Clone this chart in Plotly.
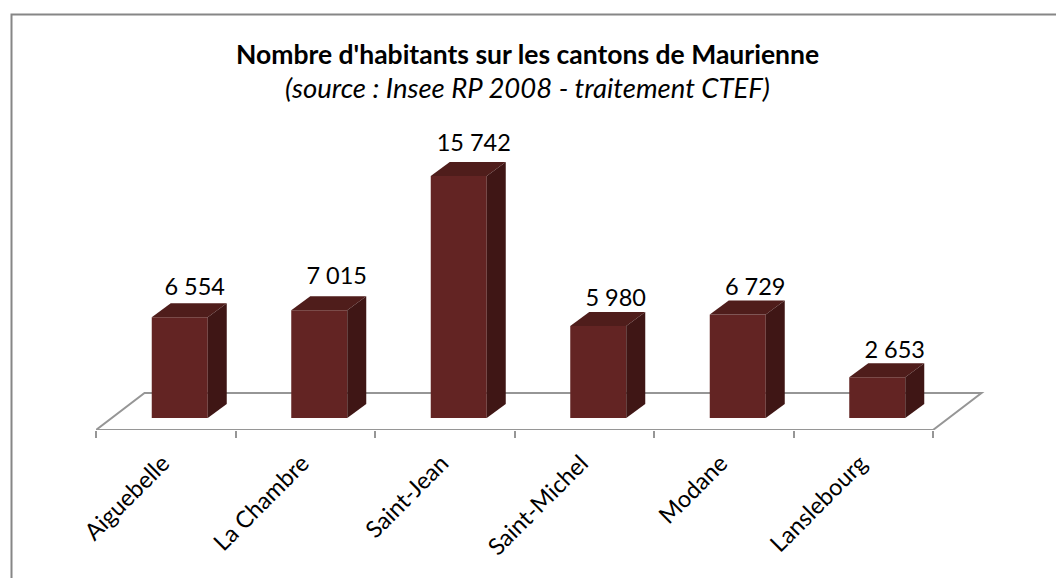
import plotly.graph_objects as go

categories = ["Aiguebelle", "La Chambre", "Saint-Jean", "Saint-Michel", "Modane", "Lanslebourg"]
values = [6554, 7015, 15742, 5980, 6729, 2653]
value_labels = ["6 554", "7 015", "15 742", "5 980", "6 729", "2 653"]
# hand placement of the data labels, in px relative to the bar
label_lift_px = [27.7, 32.5, 30.5, 25.5, 25, 24.7]
label_nudge_px = [0, 2.5, 0, 2.5, 2.5, 2.5]

W, H = 1056, 578
# pixel geometry of the plot box
L, R, T, B = 96, 990, 100, 430
CAT_PX = 139.5
UNIT_PX = 242 / 15742          # px per inhabitant
px = lambda p: p / CAT_PX      # px -> category units
py = lambda p: p / UNIT_PX     # px -> value units

FRONT = "#632423"
TOP = "#4F1D1B"
SIDE = "#3F1615"
GRID = "#969696"
BORDER = "#868686"

x0 = -0.5
xmax = x0 + px(R - L)
floor0 = -py(12)               # value at the front axis line
ymax = floor0 + py(B - T)

bar_w = px(56)
bar_shift = px(14)             # bars sit back on the floor
dx, dy = px(19), py(14)
floor_dx, floor_dy = px(48.5), py(37)

fig = go.Figure()

# fronts
fig.add_trace(go.Bar(
    x=[i + bar_shift for i in range(len(values))], y=values, width=bar_w,
    marker=dict(color=FRONT, line=dict(width=0)), showlegend=False))

# tops and sides, built from the values
for i, v in enumerate(values):
    left = i + bar_shift - bar_w / 2
    right = i + bar_shift + bar_w / 2
    fig.add_trace(go.Scatter(
        x=[left, right, right + dx, left + dx, left],
        y=[v, v, v + dy, v + dy, v], mode="lines", fill="toself",
        fillcolor=TOP, line=dict(width=0, color=TOP), hoverinfo="skip", showlegend=False))
    fig.add_trace(go.Scatter(
        x=[right, right + dx, right + dx, right, right],
        y=[0, dy, v + dy, v, 0], mode="lines", fill="toself",
        fillcolor=SIDE, line=dict(width=0, color=SIDE), hoverinfo="skip", showlegend=False))

# value labels
fig.add_trace(go.Scatter(
    x=[i + bar_shift + dx / 2 + px(5.5 + label_nudge_px[i]) for i in range(len(values))],
    y=[v + py(label_lift_px[i]) for i, v in enumerate(values)],
    mode="text", text=value_labels, textposition="middle center",
    textfont=dict(family="Lato", size=23.5, color="#000000"),
    hoverinfo="skip", showlegend=False))

x_end = x0 + len(categories)
floor_path = (f"M {x0} {floor0} L {x_end} {floor0} L {x_end + floor_dx} {floor0 + floor_dy} "
              f"L {x0 + floor_dx} {floor0 + floor_dy} Z")
bx0 = (11.5 - L) / (R - L)
bx1 = (W + 5 - L) / (R - L)
by0 = (B - H - 5) / (B - T)
by1 = (B - 14.5) / (B - T)

fig.update_layout(
    width=W, height=H, autosize=False, barmode="overlay",
    margin=dict(l=L, r=W - R, t=T, b=H - B, autoexpand=False),
    paper_bgcolor="#ffffff", plot_bgcolor="rgba(0,0,0,0)", showlegend=False,
    xaxis=dict(
        range=[x0, xmax], showgrid=False, zeroline=False, showline=False,
        tickmode="array", tickvals=list(range(len(categories))), ticktext=categories,
        tickangle=-45, ticks="", ticklen=0, ticklabelstandoff=14, ticklabelshift=-3,
        tickfont=dict(family="Lato", size=23.5, color="#000000"),
        minor=dict(tickmode="array", tickvals=[x0 + k for k in range(len(categories) + 1)],
                   ticks="outside", ticklen=7, tickwidth=2, tickcolor=GRID, showgrid=False),
    ),
    yaxis=dict(range=[floor0, ymax], visible=False),
    annotations=[
        dict(text="<b>Nombre d'habitants sur les cantons de Maurienne</b>", xref="paper", yref="paper",
             x=(527 - L) / (R - L), y=(B - 54.5) / (B - T), xanchor="center", yanchor="middle", showarrow=False,
             font=dict(family="Lato", size=26.5, color="#000000")),
        dict(text="<i>(source : Insee RP 2008 - traitement CTEF)</i>", xref="paper", yref="paper",
             x=(527 - L) / (R - L), y=(B - 87) / (B - T), xanchor="center", yanchor="middle", showarrow=False,
             font=dict(family="Lato", size=27.5, color="#000000")),
    ],
    shapes=[
        dict(type="path", xref="x", yref="y", layer="below", path=floor_path,
             line=dict(color=GRID, width=2)),
        dict(type="path", xref="paper", yref="paper", layer="below",
             path=f"M {bx0} {by0} L {bx0} {by1} L {bx1} {by1}",
             line=dict(color=BORDER, width=2)),
    ],
)
fig.write_html("out.html", config={"displayModeBar": False},
               post_script="document.body.style.margin='0';document.body.style.overflow='hidden';")
